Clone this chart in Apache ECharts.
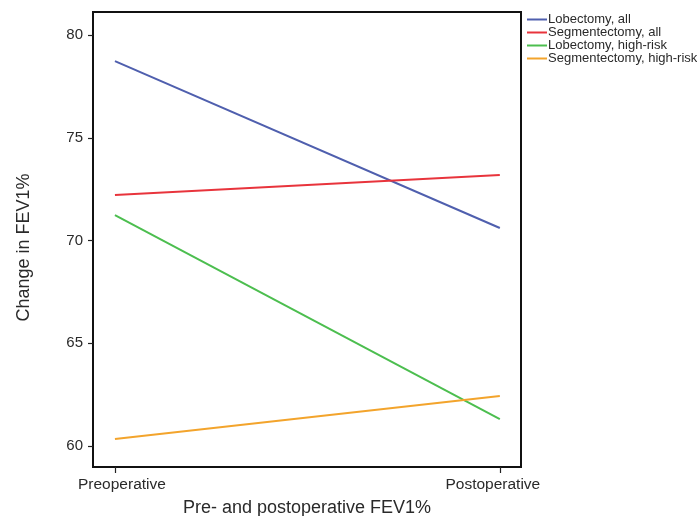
<!DOCTYPE html>
<html><head><meta charset="utf-8">
<script src="https://cdn.jsdelivr.net/npm/echarts@6/dist/echarts.min.js"></script>
<style>html,body{margin:0;padding:0;background:#fff}#c{width:697px;height:516px}</style>
</head><body><div id="c"></div>
<script>
const categories = ['Preoperative', 'Postoperative'];
const seriesNames = ['Lobectomy, all', 'Segmentectomy, all', 'Lobectomy, high-risk', 'Segmentectomy, high-risk'];
const lobectomyAll = [78.73, 70.61];
const segmentectomyAll = [72.21, 73.19];
const lobectomyHighRisk = [71.24, 61.31];
const segmentectomyHighRisk = [60.34, 62.43];
const yTicks = [60, 65, 70, 75, 80];
const colors = ['#4f5fae', '#e8343c', '#4cbe4f', '#f3a42c'];
const allValues = [lobectomyAll, segmentectomyAll, lobectomyHighRisk, segmentectomyHighRisk];

const font = 'Liberation Sans, Arial, Helvetica, sans-serif';
const chart = echarts.init(document.getElementById('c'));
chart.setOption({
  animation: false,
  color: colors,
  grid: {left: 93, right: 176, top: 12, bottom: 49, show: true, borderColor: '#111', borderWidth: 2,
    backgroundColor: 'transparent', containLabel: false, outerBoundsMode: 'none'},
  legend: {
    orient: 'vertical', left: 522, top: 8, itemWidth: 20, itemHeight: 2, itemGap: 0,
    icon: 'rect',
    textStyle: {fontFamily: font, fontSize: 13, color: '#2a2a2a', padding: [0, 0, 0, -4]},
    data: seriesNames
  },
  xAxis: {
    type: 'value', min: -0.057, max: 1.055,
    name: 'Pre- and postoperative FEV1%', nameLocation: 'middle', nameGap: 32,
    nameTextStyle: {fontFamily: font, fontSize: 18, color: '#2a2a2a'},
    axisLine: {show: false, onZero: false},
    axisTick: {show: true, length: 6, lineStyle: {color: '#222', width: 1.2}, customValues: [0, 1]},
    axisLabel: {fontFamily: font, fontSize: 15.5, color: '#2a2a2a', margin: 10, customValues: [0, 1],
      formatter: v => (Math.round(v) === 0 ? '{a|' : '{b|') + categories[Math.round(v)] + '}',
      rich: {
        a: {fontFamily: font, fontSize: 15.5, color: '#2a2a2a', padding: [0, 0, 0, 14]},
        b: {fontFamily: font, fontSize: 15.5, color: '#2a2a2a', padding: [0, 14, 0, 0]}
      }},
    splitLine: {show: false}
  },
  yAxis: {
    type: 'value', min: 58.98, max: 81.12,
    name: 'Change in FEV1%', nameLocation: 'middle', nameGap: 60, nameRotate: 90,
    nameTextStyle: {fontFamily: font, fontSize: 18, color: '#2a2a2a', padding: [0, 16, 0, 0]},
    axisLine: {show: false, onZero: false},
    axisTick: {show: true, length: 5, lineStyle: {color: '#222', width: 1.2}, customValues: yTicks},
    axisLabel: {fontFamily: font, fontSize: 15, color: '#2a2a2a', margin: 10, customValues: yTicks},
    splitLine: {show: false}
  },
  series: seriesNames.map((n, i) => ({
    name: n, type: 'line', symbol: 'none',
    lineStyle: {width: 2, color: colors[i]},
    itemStyle: {color: colors[i]},
    data: allValues[i].map((v, j) => [j, v])
  }))
});
</script></body></html>
